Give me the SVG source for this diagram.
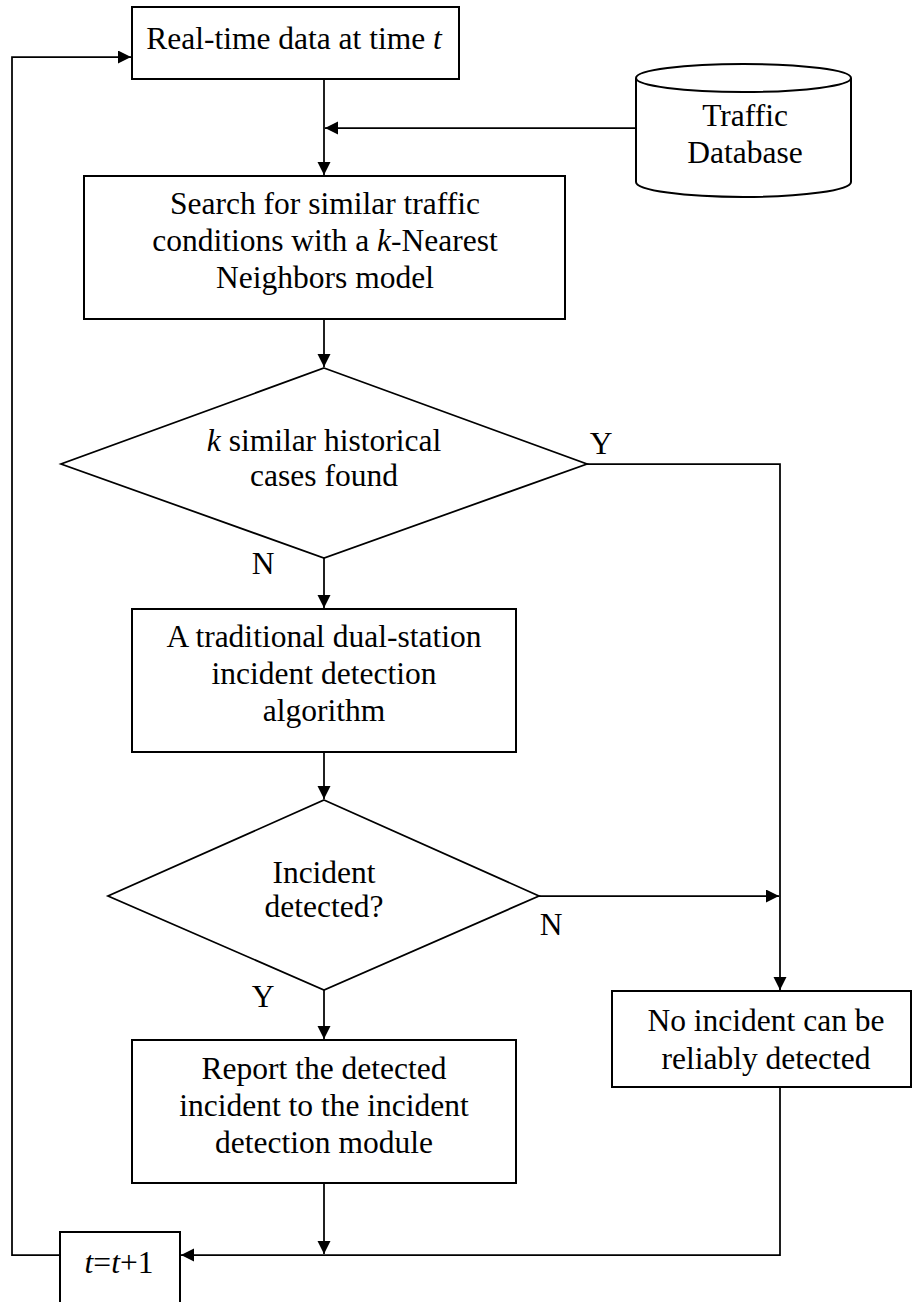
<svg xmlns="http://www.w3.org/2000/svg" width="914" height="1302" viewBox="0 0 914 1302">
  <style>
    .box { fill: #ffffff; stroke: #000000; stroke-width: 2; }
    .dia { fill: #ffffff; stroke: #000000; stroke-width: 1.75; }
    .wire { fill: none; stroke: #000000; stroke-width: 1.75; }
    text { font-family: "Liberation Serif", "Times New Roman", serif; font-size: 31.5px; fill: #000000; text-anchor: middle; }
    .it { font-style: italic; }
  </style>
  <defs>
    <marker id="arrow" markerUnits="userSpaceOnUse" markerWidth="14" markerHeight="14" refX="13" refY="6.5" orient="auto">
      <path d="M0,0 L13,6.5 L0,13 Z" fill="#000000"/>
    </marker>
  </defs>
  <rect width="914" height="1302" fill="#ffffff"/>

  <!-- connectors -->
  <g id="connectors">
    <path class="wire" d="M60,1255 H12 V57 H131" marker-end="url(#arrow)"/>
    <path class="wire" d="M324,79 V175" marker-end="url(#arrow)"/>
    <path class="wire" d="M636,128 H325" marker-end="url(#arrow)"/>
    <path class="wire" d="M324,319 V367" marker-end="url(#arrow)"/>
    <path class="wire" d="M324,558 V608" marker-end="url(#arrow)"/>
    <path class="wire" d="M587,464 H780 V990" marker-end="url(#arrow)"/>
    <path class="wire" d="M324,752 V799" marker-end="url(#arrow)"/>
    <path class="wire" d="M539,896 H779" marker-end="url(#arrow)"/>
    <path class="wire" d="M324,990 V1039" marker-end="url(#arrow)"/>
    <path class="wire" d="M324,1183 V1254" marker-end="url(#arrow)"/>
    <path class="wire" d="M780,1087 V1255 H181" marker-end="url(#arrow)"/>
  </g>

  <!-- branch labels -->
  <g id="labels">
    <text x="601" y="454">Y</text>
    <text x="263" y="574">N</text>
    <text x="551" y="935">N</text>
    <text x="263" y="1007">Y</text>
  </g>

  <g id="realtime">
    <rect class="box" x="132" y="7" width="327" height="72"/>
    <text x="294" y="49">Real-time data at time <tspan class="it">t</tspan></text>
  </g>

  <g id="database">
    <path class="box" d="M636,78 V182 A107.5,15 0 0 0 851,182 V78"/>
    <ellipse class="box" cx="743.5" cy="78" rx="107.5" ry="14"/>
    <text x="745" y="126">Traffic</text>
    <text x="745" y="163">Database</text>
  </g>

  <g id="search">
    <rect class="box" x="84" y="176" width="481" height="143"/>
    <text x="325" y="214">Search for similar traffic</text>
    <text x="325" y="251">conditions with a <tspan class="it">k</tspan>-Nearest</text>
    <text x="325" y="288">Neighbors model</text>
  </g>

  <g id="similar-found">
    <polygon class="dia" points="324,368 587,464 324,558 61,464"/>
    <text x="324" y="451"><tspan class="it">k</tspan> similar historical</text>
    <text x="324" y="486">cases found</text>
  </g>

  <g id="dual-station">
    <rect class="box" x="132" y="609" width="384" height="143"/>
    <text x="324" y="647">A traditional dual-station</text>
    <text x="324" y="684">incident detection</text>
    <text x="324" y="721">algorithm</text>
  </g>

  <g id="incident-detected">
    <polygon class="dia" points="324,800 539,896 324,990 108,896"/>
    <text x="324" y="883">Incident</text>
    <text x="324" y="917">detected?</text>
  </g>

  <g id="report">
    <rect class="box" x="132" y="1040" width="384" height="143"/>
    <text x="324" y="1079">Report the detected</text>
    <text x="324" y="1116">incident to the incident</text>
    <text x="324" y="1153">detection module</text>
  </g>

  <g id="no-incident">
    <rect class="box" x="612" y="991" width="299" height="96"/>
    <text x="766" y="1031">No incident can be</text>
    <text x="766" y="1069">reliably detected</text>
  </g>

  <g id="increment">
    <rect class="box" x="60" y="1232" width="120" height="80"/>
    <text x="119" y="1273"><tspan class="it">t</tspan>=<tspan class="it">t</tspan>+1</text>
  </g>
</svg>
